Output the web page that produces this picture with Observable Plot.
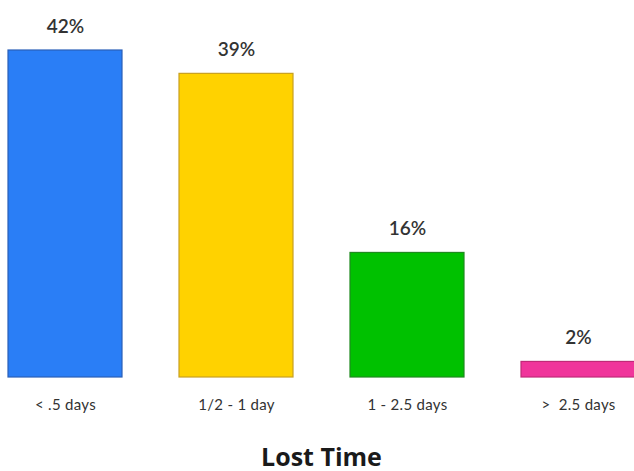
<!DOCTYPE html>
<html>
<head>
<meta charset="utf-8">
<script src="https://cdn.jsdelivr.net/npm/d3@7"></script>
<script src="https://cdn.jsdelivr.net/npm/@observablehq/plot@0.6"></script>
<style>
  html, body { margin: 0; padding: 0; background: #fff; }
  svg { display: block; }
</style>
</head>
<body>
<div id="chart"></div>
<script>
const categories = ["< .5 days", "1/2 - 1 day", "1 - 2.5 days", ">  2.5 days"];
const values = [42, 39, 16, 2];
const fills = ["#2a7ef6", "#ffd200", "#00c100", "#f0359b"];
const strokes = ["#2a5fb8", "#c8a020", "#1f8a1f", "#c02a78"];

const data = categories.map((c, i) => ({cat: c, value: values[i], fill: fills[i], stroke: strokes[i]}));

const chart = Plot.plot({
  width: 634,
  height: 471,
  marginTop: 50,
  marginBottom: 94,
  marginLeft: 8,
  marginRight: 0,
  style: {fontFamily: "Lato, 'Open Sans', sans-serif", color: "#333", background: "#fff"},
  x: {domain: categories, range: [8, 635], paddingInner: 0.335, paddingOuter: 0},
  y: {domain: [0, 42], axis: null},
  marks: [
    Plot.barY(data, {x: "cat", y: "value", fill: d => d.fill, stroke: d => d.stroke, strokeWidth: 1.2}),
    Plot.text(data, {x: "cat", y: "value", text: d => d.value + "%", dy: -24, fontSize: 19, fontWeight: 600, fill: "#333"}),
    Plot.axisX({tickSize: 0, tickPadding: 22, fontSize: 15, label: "Lost Time", labelAnchor: "center", labelOffset: 88, labelArrow: "none"})
  ]
});
chart.querySelectorAll("g[aria-label='x-axis tick label'] text").forEach(t => {
  t.setAttribute("letter-spacing", "0.3");
});
chart.querySelectorAll("g[aria-label='x-axis label'] text").forEach(t => {
  t.setAttribute("font-size", "25");
  t.setAttribute("font-weight", "bold");
  t.setAttribute("font-family", "'Open Sans', sans-serif");
  t.setAttribute("fill", "#1a1a1a");
});
document.getElementById("chart").append(chart);
</script>
</body>
</html>
